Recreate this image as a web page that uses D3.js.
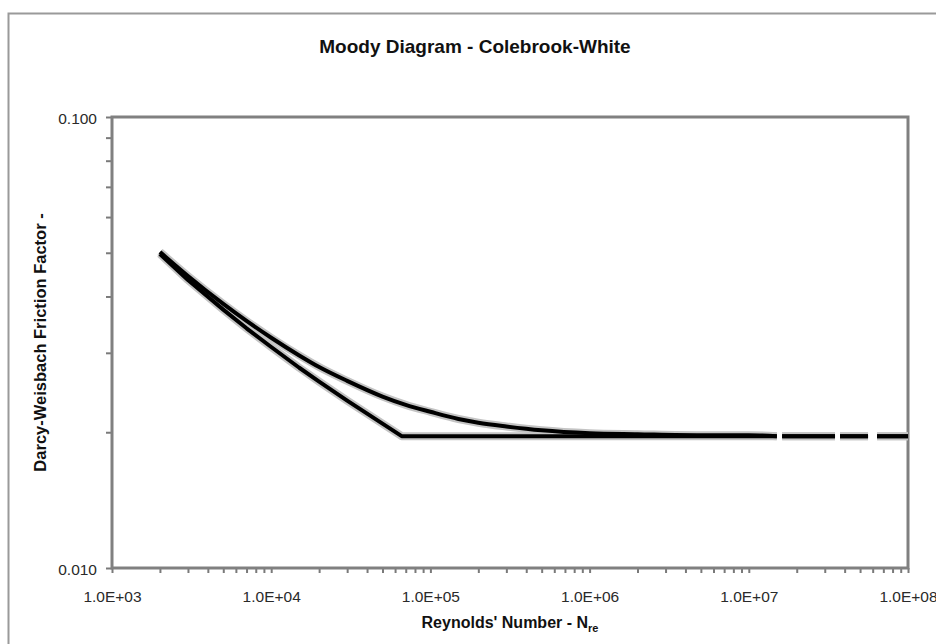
<!DOCTYPE html>
<html><head><meta charset="utf-8">
<script src="https://cdn.jsdelivr.net/npm/d3@7"></script>
<style>body{margin:0;background:#fff;overflow:hidden}</style>
</head><body><svg id="c" width="936" height="644"></svg>
<script>
// ---- data ----
const chartTitle = "Moody Diagram - Colebrook-White";
const xAxisLabel = "Reynolds' Number - N";
const xAxisLabelSub = "re";
const yAxisLabel = "Darcy-Weisbach Friction Factor -";

const xDomain = [1e3, 1e8];
const yDomain = [0.01, 0.1];
const xTickValues = [1e3, 1e4, 1e5, 1e6, 1e7, 1e8];
const xTickLabels = ["1.0E+03", "1.0E+04", "1.0E+05", "1.0E+06", "1.0E+07", "1.0E+08"];
const yTickValues = [0.01, 0.1];
const yTickLabels = ["0.010", "0.100"];

// upper curve (Colebrook-White); null = break in the plotted line
const reColebrook = [2000, 3000, 5000, 7000, 10000, 15000, 20000, 30000, 50000, 70000,
  100000, 150000, 200000, 300000, 500000, 1000000, 2000000, 5000000, 10000000, 15000000,
  15500000, 16200000, 34800000, 35500000, 37400000, 56100000, 59000000, 63900000, 100000000];
const fColebrook = [0.0502, 0.0444, 0.0385, 0.0353, 0.0324, 0.0296, 0.0279, 0.0260, 0.0240, 0.0230,
  0.0222, 0.0214, 0.0210, 0.0206, 0.0202, 0.0199, 0.0198, 0.0197, 0.0197, 0.0196,
  null, 0.0196, 0.0196, null, 0.0196, 0.0196, null, 0.0196, 0.0196];

// lower curve (smooth pipe line, then fully rough limit)
const reLimit = [2000, 3000, 5000, 7000, 10000, 15000, 20000, 30000, 50000, 66000,
  100000, 1000000, 10000000, 15000000, 15500000, 16200000, 34800000, 35500000, 37400000,
  56100000, 59000000, 63900000, 100000000];
const fLimit = [0.0497, 0.0435, 0.0374, 0.0340, 0.0309, 0.0278, 0.0259, 0.0235, 0.0209, 0.0196,
  0.0196, 0.0196, 0.0196, 0.0196, null, 0.0196, 0.0196, null, 0.0196,
  0.0196, null, 0.0196, 0.0196];

// ---- layout ----
const W = 936, H = 644;
const plot = {left: 112, top: 117, right: 908, bottom: 568};
const svg = d3.select("#c");
const FONT = "'Liberation Sans', Arial, sans-serif";

svg.append("rect").attr("width", W).attr("height", H).attr("fill", "#fff");
// outer chart border
svg.append("rect").attr("x", 8.5).attr("y", 13.5).attr("width", 1000).attr("height", 700)
  .attr("fill", "none").attr("stroke", "#9a9a9a").attr("stroke-width", 2);

const x = d3.scaleLog().domain(xDomain).range([plot.left, plot.right]);
const y = d3.scaleLog().domain(yDomain).range([plot.bottom, plot.top]);

svg.append("rect").attr("x", plot.left).attr("y", plot.top)
  .attr("width", plot.right - plot.left).attr("height", plot.bottom - plot.top)
  .attr("fill", "#fff");

// axes
const xLab = new Map(xTickValues.map((v, i) => [v, xTickLabels[i]]));
const yLab = new Map(yTickValues.map((v, i) => [v, yTickLabels[i]]));
const near = (m, v) => { for (const [k, s] of m) if (Math.abs(k - v) / k < 1e-6) return s; return ""; };

const gx = svg.append("g").attr("transform", `translate(0,${plot.bottom})`)
  .call(d3.axisBottom(x).tickValues(x.ticks()).tickSize(5).tickPadding(18).tickFormat(d => near(xLab, d)));
const gy = svg.append("g").attr("transform", `translate(${plot.left},0)`)
  .call(d3.axisLeft(y).tickValues(y.ticks()).tickSize(6).tickPadding(9).tickFormat(d => near(yLab, d)));
[gx, gy].forEach(g => {
  g.select(".domain").remove();
  g.selectAll(".tick line").attr("stroke", "#7a7a7a").attr("stroke-width", 2);
  g.selectAll(".tick text").attr("fill", "#2a2a2a").style("font-family", FONT).style("font-size", "15.5px");
});
gy.selectAll(".tick text").attr("dy", "0.4em");
gx.selectAll(".tick text").attr("dy", "0.71em");

// plot frame
svg.append("rect").attr("x", plot.left).attr("y", plot.top)
  .attr("width", plot.right - plot.left).attr("height", plot.bottom - plot.top)
  .attr("fill", "none").attr("stroke", "#808080").attr("stroke-width", 3);

// curves
svg.append("clipPath").attr("id", "clip").append("rect")
  .attr("x", plot.left).attr("y", plot.top)
  .attr("width", plot.right - plot.left).attr("height", plot.bottom - plot.top);
const gLines = svg.append("g").attr("clip-path", "url(#clip)");
const series = [
  {re: reLimit, f: fLimit, curve: d3.curveLinear},
  {re: reColebrook, f: fColebrook, curve: d3.curveMonotoneX}
];
const mkLine = s => d3.line().defined(d => d[1] != null)
  .x(d => x(d[0])).y(d => y(d[1])).curve(s.curve);
series.forEach(s => {
  const pts = s.re.map((r, i) => [r, s.f[i]]);
  gLines.append("path").attr("d", mkLine(s)(pts)).attr("fill", "none")
    .attr("stroke", "#c4c4c4").attr("stroke-width", 8).attr("stroke-linejoin", "round");
});
series.forEach(s => {
  const pts = s.re.map((r, i) => [r, s.f[i]]);
  gLines.append("path").attr("d", mkLine(s)(pts)).attr("fill", "none")
    .attr("stroke", "#000").attr("stroke-width", 4).attr("stroke-linejoin", "round");
});

// title
svg.append("text").attr("x", 475).attr("y", 53).attr("text-anchor", "middle")
  .style("font-family", FONT).style("font-weight", "bold").style("font-size", "19px")
  .attr("fill", "#111").text(chartTitle);

// x label with subscript
const xt = svg.append("text").attr("x", (plot.left + plot.right) / 2).attr("y", 628)
  .attr("text-anchor", "middle").style("font-family", FONT).style("font-weight", "bold")
  .style("font-size", "16px").attr("fill", "#111");
xt.append("tspan").text(xAxisLabel);
xt.append("tspan").attr("dy", 4).style("font-size", "11px").text(xAxisLabelSub);

// y label
svg.append("text").attr("transform", `translate(46,${(plot.top + plot.bottom) / 2}) rotate(-90)`)
  .attr("text-anchor", "middle").style("font-family", FONT).style("font-weight", "bold")
  .style("font-size", "16.5px").attr("fill", "#111").text(yAxisLabel);
</script>
</body></html>
